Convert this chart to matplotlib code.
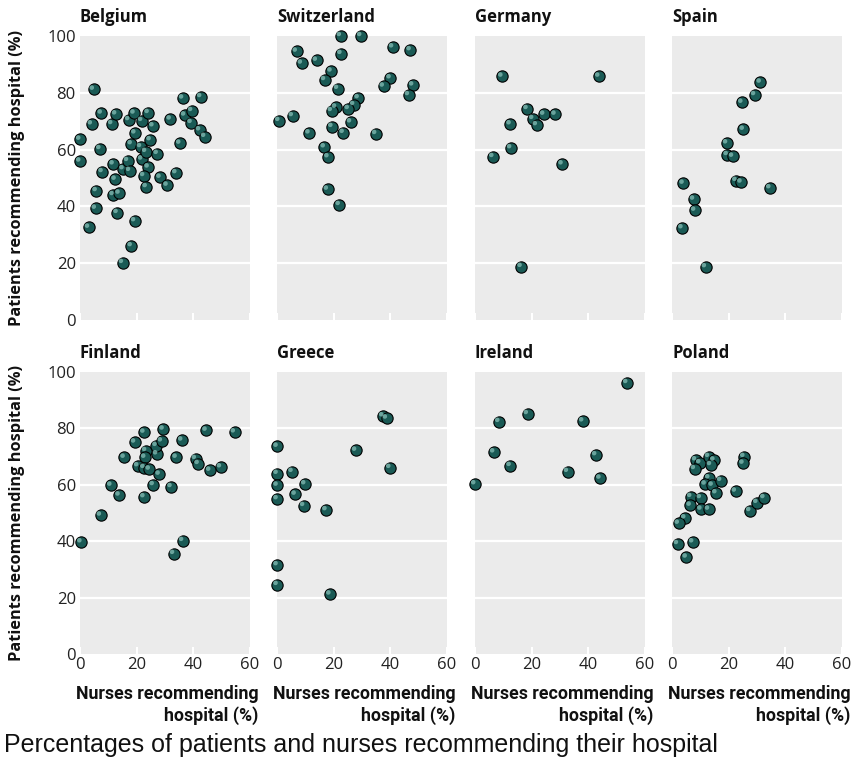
import matplotlib
matplotlib.use("Agg")
import matplotlib.pyplot as plt
import matplotlib.transforms as mtransforms
from matplotlib import font_manager

# nurses (%) vs patients (%) recommending their hospital
belgium_nurses = [0, 0, 4.8, 4.1, 7.6, 7.1, 7.9, 5.8, 5.5, 3.1, 11.3, 12.7, 11.8, 12.5, 11.8, 13.9, 13.2,
                  15.1, 18.2, 19.4, 15.3, 16.9, 17.6, 18.2, 17.3, 19.2, 19.5, 21.9, 21.5, 21.9, 23.3, 24.2,
                  24.9, 25.9, 24.2, 22.6, 23.5, 27.4, 28.4, 30.9, 32.0, 34.0, 35.4, 36.4, 37.1, 39.6, 39.4,
                  42.8, 42.4, 44.2]
belgium_patients = [63.6, 55.9, 81.2, 69.0, 72.8, 60.3, 52.2, 45.5, 39.3, 32.6, 69.1, 72.5, 54.9, 49.5, 44.1,
                    44.6, 37.8, 20.2, 26.1, 34.9, 53.2, 56.1, 52.6, 62.0, 70.5, 72.8, 65.8, 70.2, 61.0, 56.6,
                    59.3, 73.0, 63.4, 68.3, 53.8, 50.8, 46.9, 58.6, 50.2, 47.4, 70.7, 51.8, 62.2, 78.1, 72.1,
                    73.7, 69.5, 78.6, 66.9, 64.6]

swiss_nurses = [22.4, 29.6, 6.8, 8.6, 13.9, 22.6, 40.9, 47.1, 19.1, 16.8, 21.4, 40.0, 37.6, 48.0, 46.5, 28.7,
                27.1, 25.2, 20.7, 19.2, 0.6, 5.4, 19.4, 26.0, 11.3, 23.4, 34.9, 16.7, 18.0, 17.8, 22.0]
swiss_patients = [100.1, 100.1, 94.6, 90.4, 91.4, 93.8, 96.1, 95.1, 87.6, 84.6, 81.5, 85.2, 82.3, 82.7, 79.3,
                  78.2, 75.8, 74.4, 74.9, 73.7, 70.2, 71.9, 68.1, 69.7, 65.8, 66.0, 65.6, 60.9, 57.4, 46.0, 40.6]

germany_nurses = [9.6, 43.9, 18.5, 20.5, 24.4, 28.4, 21.8, 12.5, 12.7, 6.4, 30.9, 16.4]
germany_patients = [85.8, 85.8, 74.4, 70.9, 72.4, 72.4, 68.7, 69.0, 60.6, 57.5, 54.9, 18.8]

spain_nurses = [31.2, 29.2, 24.7, 25.2, 19.3, 19.5, 21.4, 22.6, 24.4, 34.6, 3.9, 7.6, 8.0, 3.5, 11.8]
spain_patients = [83.7, 79.3, 76.6, 67.1, 62.3, 58.2, 57.6, 49.1, 48.5, 46.5, 48.1, 42.5, 38.6, 32.4, 18.7]

finland_nurses = [0.4, 7.3, 11.0, 13.9, 15.7, 19.4, 20.5, 22.7, 23.3, 23.0, 22.7, 24.6, 22.7, 26.0, 28.1,
                  27.2, 27.0, 28.9, 29.5, 32.3, 34.1, 36.1, 36.4, 33.2, 40.9, 41.9, 44.7, 46.0, 49.8, 54.7]
finland_patients = [39.7, 49.2, 59.8, 56.3, 69.7, 75.1, 66.7, 78.6, 72.1, 69.7, 66.1, 65.5, 55.7, 60.0, 63.7,
                    70.9, 73.9, 75.5, 79.7, 59.3, 69.7, 75.8, 40.2, 35.6, 69.3, 67.5, 79.3, 65.1, 66.3, 78.7]

greece_nurses = [37.4, 38.7, 0, 27.8, 39.9, 0, 5.3, 0, 9.8, 6.4, 0, 9.4, 17.3, 0, 0, 18.7]
greece_patients = [84.4, 83.6, 73.6, 72.2, 66.1, 64.0, 64.7, 59.8, 60.3, 56.6, 55.0, 52.6, 51.1, 31.6, 24.6, 21.2]

ireland_nurses = [53.8, 18.6, 8.5, 38.2, 6.7, 42.8, 12.5, 32.8, 44.3, 0]
ireland_patients = [96.2, 85.2, 82.4, 82.6, 71.6, 70.6, 66.8, 64.7, 62.3, 60.3]

poland_nurses = [25.4, 25.1, 8.3, 9.8, 7.9, 12.9, 14.8, 13.6, 13.0, 11.7, 14.2, 17.2, 15.5, 22.4, 6.6, 10.0,
                 6.4, 10.2, 12.9, 4.5, 2.2, 1.9, 7.3, 5.0, 27.5, 30.0, 32.5]
poland_patients = [70.0, 67.6, 68.8, 67.8, 65.7, 70.0, 68.7, 67.1, 62.4, 60.2, 59.8, 61.5, 57.1, 57.7, 55.8,
                   55.4, 52.7, 51.3, 51.3, 48.2, 46.3, 39.1, 39.7, 34.3, 50.8, 53.7, 55.4]

countries = ["Belgium", "Switzerland", "Germany", "Spain", "Finland", "Greece", "Ireland", "Poland"]
nurses = [belgium_nurses, swiss_nurses, germany_nurses, spain_nurses,
          finland_nurses, greece_nurses, ireland_nurses, poland_nurses]
patients = [belgium_patients, swiss_patients, germany_patients, spain_patients,
            finland_patients, greece_patients, ireland_patients, poland_patients]

x_ticks = [0, 20, 40, 60]
y_ticks = [0, 20, 40, 60, 80, 100]

installed = {f.name for f in font_manager.fontManager.ttflist}
narrow = "Roboto" if "Roboto" in installed else "DejaVu Sans"
plt.rcParams["font.family"] = ["Open Sans", "DejaVu Sans"]

W, H = 853, 769
fig = plt.figure(figsize=(W / 100, H / 100), dpi=100)

lefts = [80, 277.3, 475, 672.3]
panel_w = 169.5
rows = [(36, 320), (372, 654)]  # top / bottom pixel of each row

for i, name in enumerate(countries):
    r, c = divmod(i, 4)
    top, bot = rows[r]
    ax = fig.add_axes([lefts[c] / W, 1 - bot / H, panel_w / W, (bot - top) / H])
    ax.set_facecolor("#ebebeb")
    for s in ax.spines.values():
        s.set_visible(False)
    ax.set_xlim(0, 60)
    ax.set_ylim(0, 100)
    ax.set_xticks(x_ticks)
    ax.set_yticks(y_ticks)
    for yv in [20, 40, 60, 80]:
        ax.axhline(yv, color="white", lw=1.6, zorder=1)
    ax.tick_params(axis="x", direction="in", color="white", length=5, width=1.5,
                   labelsize=12, labelcolor="#222222", pad=2)
    ax.tick_params(axis="y", length=0, labelsize=12, labelcolor="#222222", pad=3)
    if r == 0:
        ax.set_xticklabels([])
    if c != 0:
        ax.set_yticklabels([])
    else:
        ax.set_ylabel("Patients recommending hospital (%)", fontsize=11.8, fontweight="bold",
                      color="#111111")
        ax.yaxis.set_label_coords(-55 / panel_w, 0.5)
    ax.text(0, 1.035, name, transform=ax.transAxes, fontsize=12, fontweight="bold",
            ha="left", va="bottom", color="#111111")

    # sphere-like markers: dark body + small highlight
    ax.scatter(nurses[i], patients[i], s=66, c="#1a5a55", edgecolors="black", linewidths=0.8,
               zorder=3, clip_on=False)
    hl = mtransforms.offset_copy(ax.transData, fig=fig, x=-1.3, y=1.3, units="points")
    ax.scatter(nurses[i], patients[i], s=11, c="#7fb8b0", edgecolors="none", alpha=0.8,
               transform=hl, zorder=4, clip_on=False)

    if r == 1:
        fig.text((lefts[c] + panel_w + 9) / W, 1 - 694 / H, "Nurses recommending",
                 family=[narrow, "DejaVu Sans"], fontsize=12.8, fontweight="bold",
                 ha="right", va="center", color="#111111")
        fig.text((lefts[c] + panel_w + 9) / W, 1 - 716 / H, "hospital (%)",
                 family=[narrow, "DejaVu Sans"], fontsize=12.8, fontweight="bold",
                 ha="right", va="center", color="#111111")

fig.text(4 / W, 1 - 745 / H, "Percentages of patients and nurses recommending their hospital",
         family=["Liberation Sans", "DejaVu Sans"], fontsize=18, ha="left", va="center",
         color="#111111")

fig.savefig("out.png", dpi=100)
